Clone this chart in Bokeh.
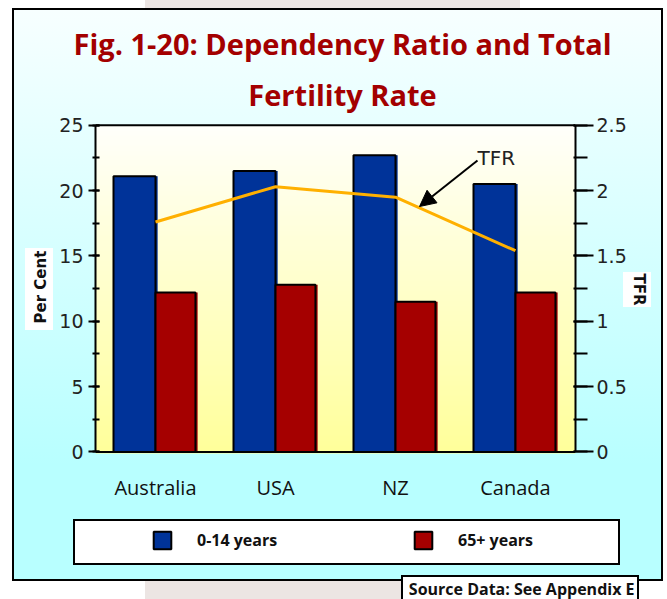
from bokeh.plotting import figure
from bokeh.models import (ColumnDataSource, FactorRange, Range1d, LinearAxis,
                          SingleIntervalTicker, CustomJSTickFormatter, BoxAnnotation,
                          Label, LabelSet, Arrow, NormalHead, Legend, LegendItem, Title, Span)
from bokeh.core.properties import value
from bokeh.transform import dodge
from bokeh.embed import file_html
from bokeh.resources import INLINE

# ---- data ----
countries = ["Australia", "USA", "NZ", "Canada"]
age_0_14 = [21.1, 21.5, 22.7, 20.5]
age_65_plus = [12.2, 12.8, 11.5, 12.2]
tfr = [1.76, 2.03, 1.95, 1.54]
series_names = ["0-14 years", "65+ years"]
title_lines = ["Fig. 1-20: Dependency Ratio and Total", "Fertility Rate"]
left_axis_title = "Per Cent"
right_axis_title = "TFR"
left_axis_max = 25
right_axis_max = 2.5
source_note = "Source Data: See Appendix E"

BLUE = "#003399"
RED = "#a50000"
ORANGE = "#ffb000"
TITLE_RED = "#a30000"

# ---- layout (pixels) ----
W, H = 667, 599
FRAME_L, FRAME_R, FRAME_T, FRAME_B = 95, 575, 70, 577   # frame incl. legend strip
AX_TOP, AX_BOT = 125, 453                               # where the value axes start/end
ppu = (AX_BOT - AX_TOP) / left_axis_max
y_lo = -(FRAME_B - AX_BOT) / ppu
y_hi = left_axis_max + (AX_TOP - FRAME_T) / ppu
k = right_axis_max / left_axis_max

src = ColumnDataSource(dict(country=countries, young=age_0_14, old=age_65_plus, tfr=tfr))

p = figure(width=W, height=H, x_range=FactorRange(*countries), y_range=Range1d(y_lo, y_hi),
           output_backend="svg", toolbar_location=None, tools="", title=None,
           x_axis_location=None,
           min_border_left=FRAME_L, min_border_right=W - FRAME_R,
           min_border_top=FRAME_T, min_border_bottom=H - FRAME_B)
p.extra_y_ranges = {"tfr": Range1d(y_lo * k, y_hi * k)}
p.border_fill_alpha = 0
p.background_fill_alpha = 0
p.outline_line_color = None
p.grid.visible = False

# page decoration painted behind the transparent canvas
layers = [
    "linear-gradient(#fff,#fff) 25px 248px / 28px 82px no-repeat",        # Per Cent backing
    "linear-gradient(#fff,#fff) 623px 272px / 28px 35px no-repeat",       # TFR backing
    "linear-gradient(#fff,#fff) 75px 521px / 543px 42px no-repeat",       # legend box
    "linear-gradient(#000,#000) 73px 519px / 547px 46px no-repeat",
    "linear-gradient(#fff,#fff) 403px 577px / 234px 40px no-repeat",      # source box
    "linear-gradient(#000,#000) 401px 575px / 238px 44px no-repeat",
    "linear-gradient(to bottom, #f7ffff 0px, #b8ffff 455px, #b8ffff 100%) 14px 10px / 647px 569px no-repeat",
    "linear-gradient(#000,#000) 12px 8px / 651px 573px no-repeat",
    "linear-gradient(#ece5e3,#ece5e3) 145px 0px / 375px 599px no-repeat",
    "#ffffff",
]
p.styles = {"background": ", ".join(layers)}


def lerp(c1, c2, t):
    t = max(0.0, min(1.0, t))
    a = [int(c1[i:i + 2], 16) for i in (1, 3, 5)]
    b = [int(c2[i:i + 2], 16) for i in (1, 3, 5)]
    return "#%02x%02x%02x" % tuple(round(x + (y - x) * t) for x, y in zip(a, b))


# plot area gradient (white to light yellow)
y = AX_TOP
while y < AX_BOT:
    y2 = min(y + 5, AX_BOT)
    p.add_layout(BoxAnnotation(left=FRAME_L, right=FRAME_R, top=y, bottom=min(y2 + 1, AX_BOT),
                               left_units="canvas", right_units="canvas",
                               top_units="canvas", bottom_units="canvas",
                               fill_color=lerp("#fffffa", "#ffff99", (y - AX_TOP) / (AX_BOT - AX_TOP)),
                               fill_alpha=1, line_alpha=0, level="underlay"))
    y = y2

# ---- bars ----
bw_y, off_y = 0.35, -0.175
bw_o, off_o = 0.333, 0.1665
sh = 0.018
p.vbar(x=dodge("country", off_y + sh, range=p.x_range), top="young", width=bw_y, source=src,
       fill_color=BLUE, line_color=None)
r_young = p.vbar(x=dodge("country", off_y, range=p.x_range), top="young", width=bw_y, source=src,
                 fill_color=BLUE, line_color="black", line_width=2)
p.vbar(x=dodge("country", off_o + sh, range=p.x_range), top="old", width=bw_o, source=src,
       fill_color=RED, line_color=None)
r_old = p.vbar(x=dodge("country", off_o, range=p.x_range), top="old", width=bw_o, source=src,
               fill_color=RED, line_color="black", line_width=2)
p.line(x="country", y="tfr", source=src, y_range_name="tfr", line_color=ORANGE, line_width=3)

# plot box top / base lines
p.add_layout(Span(location=left_axis_max, dimension="width", line_color="black", line_width=2))
p.add_layout(Span(location=0, dimension="width", line_color="black", line_width=2))

# category labels under the bars
p.add_layout(LabelSet(x="country", y=0, text="country", source=src, y_offset=-43,
                      text_align="center", text_baseline="alphabetic",
                      text_font=value("Open Sans"), text_font_size=value("20px"),
                      text_color="#111111"))

# ---- value axes ----
ya = p.yaxis[0]
ya.bounds = (0, left_axis_max)
ya.ticker = SingleIntervalTicker(interval=5, num_minor_ticks=2)
ya.axis_line_width = 2
ya.major_tick_line_width = 2
ya.minor_tick_line_width = 2
ya.major_tick_in, ya.major_tick_out = 4, 7
ya.minor_tick_in, ya.minor_tick_out = 4, 3
ya.major_label_standoff = 5
ya.major_label_text_font = "DejaVu Sans"
ya.major_label_text_font_size = "19px"
ya.major_label_text_color = "#222222"

yr = LinearAxis(y_range_name="tfr", bounds=(0, right_axis_max),
                ticker=SingleIntervalTicker(interval=0.5, num_minor_ticks=2),
                formatter=CustomJSTickFormatter(code="return String(Math.round(tick*10)/10)"))
yr.axis_line_width = 2
yr.major_tick_line_width = 2
yr.minor_tick_line_width = 2
yr.major_tick_in, yr.major_tick_out = 2, 18
yr.minor_tick_in, yr.minor_tick_out = 2, 12
yr.major_label_standoff = 3
yr.major_label_text_font = "DejaVu Sans"
yr.major_label_text_font_size = "19px"
yr.major_label_text_color = "#222222"
p.add_layout(yr, "right")

# axis titles (side-panel titles, placed beside the bounded axes)
p.add_layout(Title(text=left_axis_title, align="left", offset=252, standoff=14,
                   vertical_align="bottom", text_font="DejaVu Sans", text_font_style="bold",
                   text_font_size="15px", text_color="#111111"), "left")
p.add_layout(Title(text=right_axis_title, align="left", offset=203, standoff=0,
                   vertical_align="bottom", text_font="DejaVu Sans", text_font_style="bold",
                   text_font_size="15px", text_color="#111111"), "right")

# ---- title ----
p.add_layout(Title(text=title_lines[0], align="left", offset=-22, standoff=16,
                   vertical_align="bottom", text_font="Open Sans", text_font_style="bold",
                   text_font_size="29px", text_color=TITLE_RED), "above")
p.add_layout(Label(x=342, y=94, x_units="canvas", y_units="canvas", text=title_lines[1],
                   text_align="center", text_baseline="alphabetic",
                   text_font="Open Sans", text_font_style="bold", text_font_size="29px",
                   text_color=TITLE_RED))

# ---- TFR callout ----
p.add_layout(Label(x=477, y=157, x_units="canvas", y_units="canvas", text="TFR",
                   text_align="left", text_baseline="alphabetic",
                   text_font="DejaVu Sans", text_font_size="20px", text_color="#222222"))
p.add_layout(Arrow(end=NormalHead(size=16, fill_color="black", line_color="black"),
                   x_start=477, y_start=160, x_end=419, y_end=206,
                   start_units="canvas", end_units="canvas",
                   line_color="black", line_width=2))

# ---- legend ----
legend = Legend(items=[LegendItem(label=series_names[0], renderers=[r_young]),
                       LegendItem(label=series_names[1], renderers=[r_old])],
                location=(56, 24), orientation="horizontal", padding=0, margin=0,
                spacing=133, label_standoff=24, glyph_width=22, glyph_height=22,
                label_width=82, label_height=22,
                label_text_font="Open Sans", label_text_font_style="bold",
                label_text_font_size="16px", label_text_color="#111111",
                border_line_color=None, background_fill_alpha=0)
p.add_layout(legend)

# ---- source note ----
p.add_layout(Title(text=source_note, align="right", offset=-59, standoff=0,
                   vertical_align="bottom", text_font="Open Sans", text_font_style="bold",
                   text_font_size="16px", text_color="#111111"), "below")

open("out.html", "w").write(file_html(p, INLINE))
